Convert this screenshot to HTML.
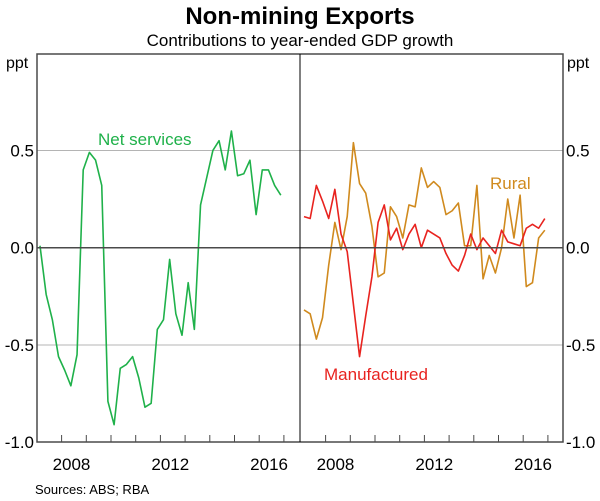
<!DOCTYPE html>
<html><head><meta charset="utf-8"><style>
html,body{margin:0;padding:0;background:#fff;}
svg{display:block;font-family:"Liberation Sans",Arial,sans-serif;}
</style></head><body>
<svg id="chart" width="600" height="501" viewBox="0 0 600 501" xmlns="http://www.w3.org/2000/svg">
<text x="300" y="24" text-anchor="middle" font-size="24" font-weight="bold" fill="#000">Non-mining Exports</text>
<text x="300" y="46" text-anchor="middle" font-size="17" fill="#000">Contributions to year-ended GDP growth</text>
<text x="6" y="68" font-size="16" fill="#000">ppt</text>
<text x="567" y="68" font-size="16" fill="#000">ppt</text>
<text x="35" y="494" font-size="13" fill="#000">Sources: ABS; RBA</text>
<g id="grid"></g>
<g id="series"></g>
<g id="axes"></g>
<text x="98" y="145" font-size="17" fill="#1fb14a">Net services</text>
<text x="490" y="189" font-size="17" fill="#d08a1e">Rural</text>
<text x="324" y="380" font-size="17" fill="#e8231f">Manufactured</text>
</svg>
<script>
const yTicks = [0.5, 0.0, -0.5, -1.0];
const yTickLabels = ["0.5", "0.0", "-0.5", "-1.0"];
const yearTicks = [2008, 2009, 2010, 2011, 2012, 2013, 2014, 2015, 2016, 2017];
const yearLabels = [2008, 2012, 2016];
const netServices = [0.01,-0.24,-0.37,-0.56,-0.63,-0.71,-0.55,0.40,0.49,0.45,0.32,-0.79,-0.91,-0.62,-0.60,-0.56,-0.67,-0.82,-0.80,-0.42,-0.37,-0.06,-0.34,-0.45,-0.18,-0.42,0.22,0.36,0.50,0.55,0.40,0.60,0.37,0.38,0.45,0.17,0.40,0.40,0.32,0.27];
const rural = [-0.32,-0.34,-0.47,-0.36,-0.09,0.13,-0.01,0.16,0.54,0.33,0.28,0.11,-0.15,-0.13,0.21,0.16,0.05,0.22,0.21,0.41,0.31,0.34,0.31,0.17,0.19,0.23,0.01,0.01,0.32,-0.16,-0.04,-0.13,0.00,0.25,0.05,0.27,-0.20,-0.18,0.05,0.09];
const manufactured = [0.16,0.15,0.32,0.24,0.15,0.30,0.07,-0.02,-0.29,-0.56,-0.35,-0.15,0.13,0.22,0.04,0.10,-0.01,0.07,0.12,0.00,0.09,0.07,0.05,-0.03,-0.09,-0.12,-0.04,0.07,-0.01,0.05,0.01,-0.03,0.09,0.03,0.02,0.01,0.10,0.12,0.10,0.15];
const startYear = 2007.125;

const NS = "http://www.w3.org/2000/svg";
const TOP = 54, BOT = 442, LEFT = 37, MID = 300, RIGHT = 563;
function yScale(v){ return 247.7 - v * 194.5; }
function xLeft(t){ return 36.9 + (t - 2007) * 24.7; }
function xRight(t){ return 300.9 + (t - 2007) * 24.7; }
function mk(tag, attrs, parent){
  const e = document.createElementNS(NS, tag);
  for (const k in attrs) e.setAttribute(k, attrs[k]);
  parent.appendChild(e);
  return e;
}
const grid = document.getElementById('grid');
const axes = document.getElementById('axes');
const series = document.getElementById('series');

yTicks.forEach((v, i) => {
  const y = yScale(v);
  if (v !== 0 && v !== -1) {
    const g = mk('line', {x1: LEFT, x2: RIGHT, y1: y, y2: y, stroke: '#b4b4b4', 'stroke-width': 1}, grid);
    
    
  }
  const lt = mk('text', {x: 34, y: y + 6, 'text-anchor': 'end', 'font-size': 17, fill: '#000'}, axes);
  lt.textContent = yTickLabels[i];
  
  
  const rt = mk('text', {x: 566, y: y + 6, 'font-size': 17, fill: '#000'}, axes);
  rt.textContent = yTickLabels[i];
  
  
});

const zl = mk('line', {x1: LEFT, x2: RIGHT, y1: yScale(0), y2: yScale(0), stroke: '#4a4a4a', 'stroke-width': 1.5}, axes);



function drawLine(vals, xf, color, name){
  const pts = vals.map((v, i) => xf(startYear + i * 0.25).toFixed(2) + ',' + yScale(v).toFixed(2)).join(' ');
  const p = mk('polyline', {points: pts, fill: 'none', stroke: color, 'stroke-width': 1.6, 'stroke-linejoin': 'round'}, series);
  
  
}
drawLine(netServices, xLeft, '#1fb14a', 'net-services-line');
drawLine(rural, xRight, '#d08a1e', 'rural-line');
drawLine(manufactured, xRight, '#e8231f', 'manufactured-line');

const frame = mk('rect', {x: LEFT, y: TOP, width: RIGHT - LEFT, height: BOT - TOP, fill: 'none', stroke: '#4a4a4a', 'stroke-width': 1.5}, axes);


const div = mk('line', {x1: MID, x2: MID, y1: TOP, y2: BOT, stroke: '#000', 'stroke-width': 1}, axes);



[xLeft, xRight].forEach((xf, pi) => {
  yearTicks.forEach(t => {
    const x = xf(t);
    const tk = mk('line', {x1: x, x2: x, y1: BOT, y2: BOT - 7, stroke: '#4a4a4a', 'stroke-width': 1}, axes);
    
    
  });
  yearLabels.forEach(t => {
    const lb = mk('text', {x: xf(t + 0.4), y: 470, 'text-anchor': 'middle', 'font-size': 17, fill: '#000'}, axes);
    lb.textContent = String(t);
    
    
  });
});
</script>
</body></html>
